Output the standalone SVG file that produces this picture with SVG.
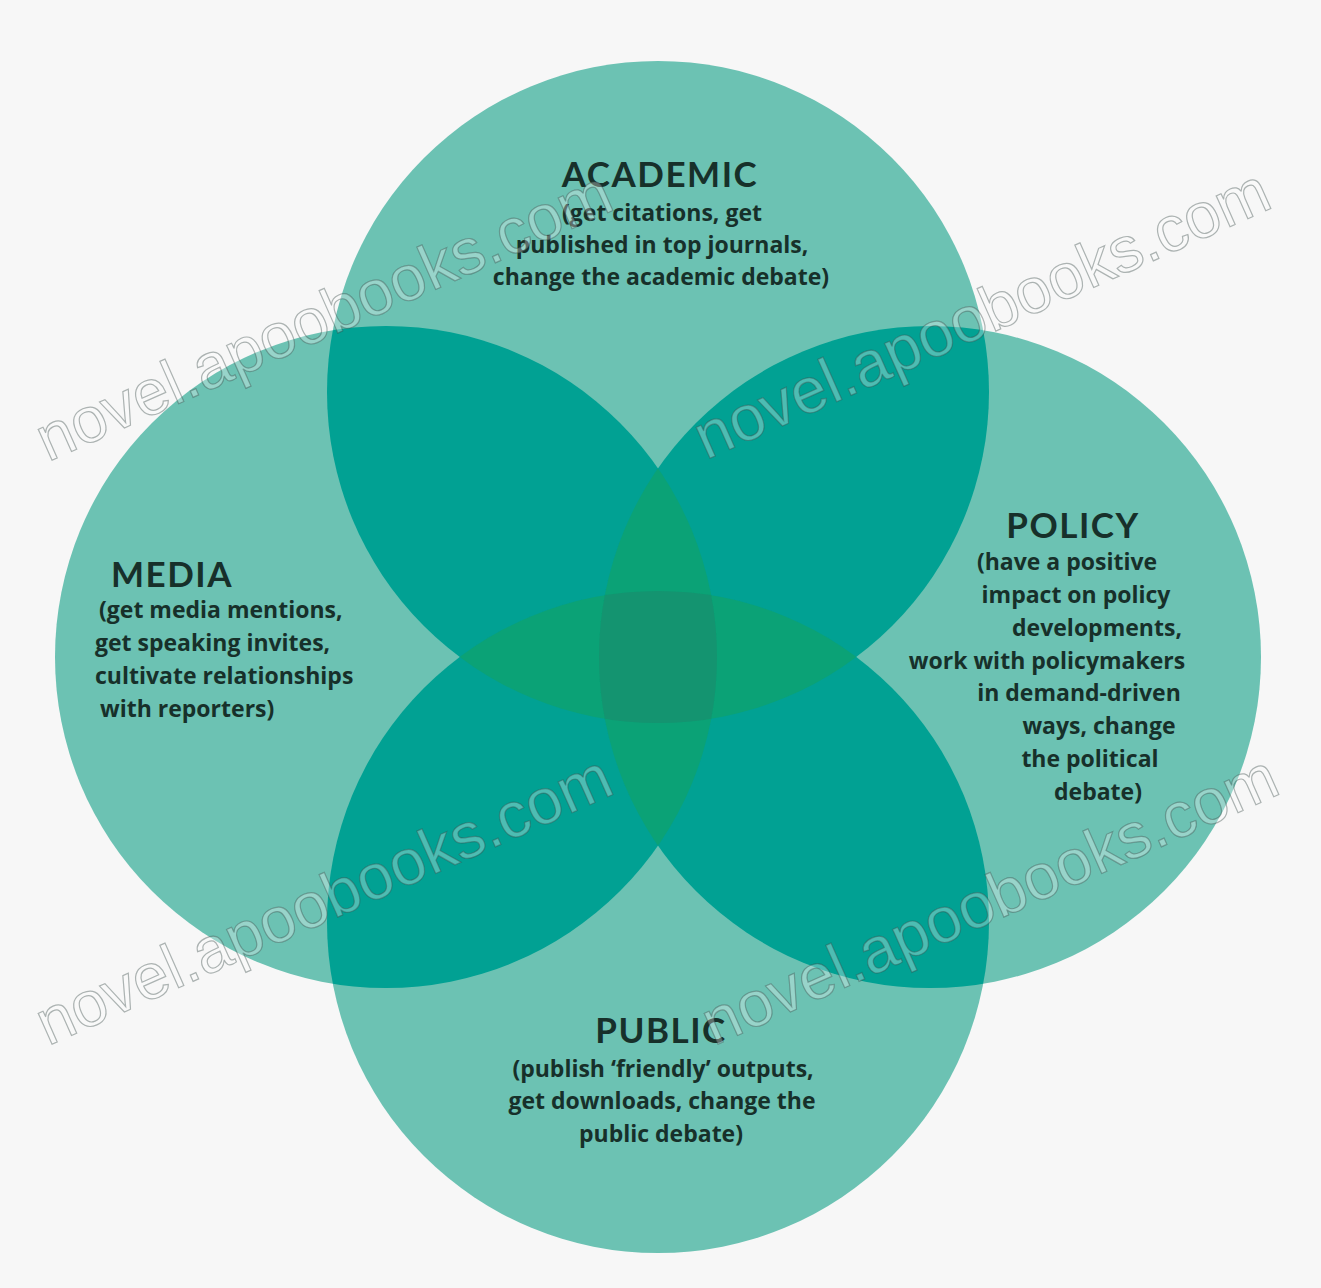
<svg xmlns="http://www.w3.org/2000/svg" width="1321" height="1288" viewBox="0 0 1321 1288">
<defs>
<style>
.circ{fill:#6cc2b3}
.pair{fill:#01a193}
.tri{fill:#0ba276}
.quad{fill:#149470}
.title{font-family:Lato,"Open Sans","DejaVu Sans",sans-serif;font-weight:700;font-size:35px;fill:#17302a;letter-spacing:1.5px}
.body{font-family:"Open Sans",Lato,"DejaVu Sans",sans-serif;font-weight:700;font-size:23px;fill:#17302a}
.wm{font-family:"Liberation Sans",Arial,sans-serif;font-size:64px;fill:#ffffff;fill-opacity:0.3;stroke:#3a4a48;stroke-opacity:0.4;stroke-width:1.2}
</style>
<clipPath id="cTop"><circle cx="658" cy="392" r="331"/></clipPath>
<clipPath id="cLeft"><circle cx="386" cy="657" r="331"/></clipPath>
<clipPath id="cRight"><circle cx="930" cy="657" r="331"/></clipPath>
<clipPath id="cBottom"><circle cx="658" cy="922" r="331"/></clipPath>
</defs>
<rect width="1321" height="1288" fill="#f7f7f7"/>

<g id="node-academic">
<circle class="circ" cx="658" cy="392" r="331"/>
</g>
<g id="node-media">
<circle class="circ" cx="386" cy="657" r="331"/>
</g>
<g id="node-policy">
<circle class="circ" cx="930" cy="657" r="331"/>
</g>
<g id="node-public">
<circle class="circ" cx="658" cy="922" r="331"/>
</g>

<g id="overlaps">
<circle class="pair" cx="658" cy="392" r="331" clip-path="url(#cLeft)"/>
<circle class="pair" cx="658" cy="392" r="331" clip-path="url(#cRight)"/>
<circle class="pair" cx="658" cy="392" r="331" clip-path="url(#cBottom)"/>
<circle class="pair" cx="658" cy="922" r="331" clip-path="url(#cLeft)"/>
<circle class="pair" cx="658" cy="922" r="331" clip-path="url(#cRight)"/>
<circle class="pair" cx="386" cy="657" r="331" clip-path="url(#cRight)"/>
<g clip-path="url(#cTop)"><circle class="tri" cx="658" cy="922" r="331" clip-path="url(#cLeft)"/></g>
<g clip-path="url(#cTop)"><circle class="tri" cx="658" cy="922" r="331" clip-path="url(#cRight)"/></g>
<g clip-path="url(#cLeft)"><circle class="tri" cx="930" cy="657" r="331" clip-path="url(#cTop)"/></g>
<g clip-path="url(#cLeft)"><circle class="tri" cx="930" cy="657" r="331" clip-path="url(#cBottom)"/></g>
<g clip-path="url(#cTop)"><g clip-path="url(#cBottom)"><circle class="quad" cx="386" cy="657" r="331" clip-path="url(#cRight)"/></g></g>
</g>

<g id="connectors"></g>

<g id="label-academic" text-anchor="middle">
<text class="title" x="660" y="187">ACADEMIC</text>
<text class="body" x="662" y="221">(get citations, get</text>
<text class="body" x="662" y="253">published in top journals,</text>
<text class="body" x="661" y="285">change the academic debate)</text>
</g>

<g id="label-media">
<text class="title" x="111" y="587">MEDIA</text>
<text class="body" x="99" y="618">(get media mentions,</text>
<text class="body" x="95" y="651">get speaking invites,</text>
<text class="body" x="95" y="684">cultivate relationships</text>
<text class="body" x="100" y="717">with reporters)</text>
</g>

<g id="label-policy" text-anchor="middle">
<text class="title" x="1073" y="538">POLICY</text>
<text class="body" x="1067" y="570">(have a positive</text>
<text class="body" x="1076" y="603">impact on policy</text>
<text class="body" x="1097" y="636">developments,</text>
<text class="body" x="1047" y="669">work with policymakers</text>
<text class="body" x="1079" y="701">in demand-driven</text>
<text class="body" x="1099" y="734">ways, change</text>
<text class="body" x="1090" y="767">the political</text>
<text class="body" x="1098" y="800">debate)</text>
</g>

<g id="label-public" text-anchor="middle">
<text class="title" x="661" y="1043">PUBLIC</text>
<text class="body" x="663" y="1077">(publish ‘friendly’ outputs,</text>
<text class="body" x="662" y="1109">get downloads, change the</text>
<text class="body" x="661" y="1142">public debate)</text>
</g>

<g id="watermarks">
<text class="wm" transform="translate(48,462) rotate(-24)">novel.apoobooks.com</text>
<text class="wm" transform="translate(706,460) rotate(-24)">novel.apoobooks.com</text>
<text class="wm" transform="translate(48,1046) rotate(-24)">novel.apoobooks.com</text>
<text class="wm" transform="translate(714,1046) rotate(-24)">novel.apoobooks.com</text>
</g>
</svg>
